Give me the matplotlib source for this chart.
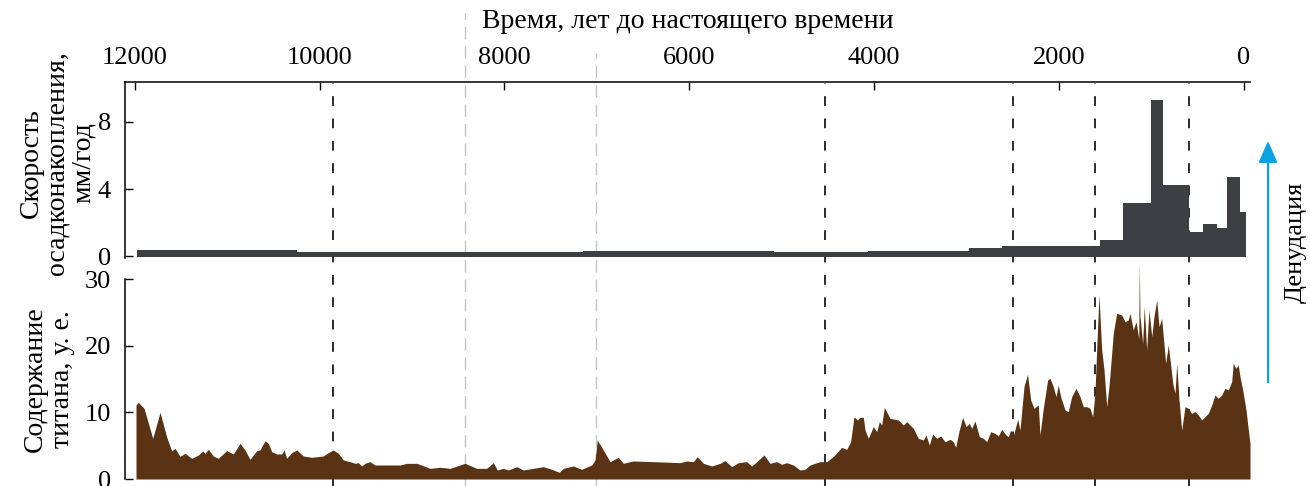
import numpy as np
import matplotlib
matplotlib.use("Agg")
import matplotlib.pyplot as plt

plt.rcParams['font.family'] = ['Liberation Serif', 'DejaVu Serif']

# Sedimentation rate, mm/yr: step intervals (years BP, ascending) and values
rate_edges = [-20, 38, 184, 292, 444, 598, 881, 1006, 1313, 1558, 2618,
              2979, 4067, 5084, 7150, 10244, 11975]
rate_values = [2.66, 4.74, 1.71, 1.93, 1.47, 4.23, 9.3, 3.16, 1.0, 0.64,
               0.49, 0.34, 0.25, 0.34, 0.25, 0.39]

# Titanium content, arbitrary units, vs age (years BP)
ti_age = [11986, 11961, 11899, 11805, 11726, 11654, 11600, 11564, 11510, 11456,
          11383, 11312, 11264, 11239, 11204, 11150, 11096, 11005, 10933, 10861,
          10807, 10753, 10680, 10645, 10590, 10555, 10518, 10464, 10410, 10385,
          10356, 10302, 10247, 10176, 10085, 9960, 9906, 9852, 9797, 9743,
          9671, 9617, 9581, 9545, 9509, 9455, 9401, 9346, 9130, 9058,
          8949, 8806, 8697, 8589, 8427, 8300, 8192, 8121, 8077, 8013,
          7958, 7868, 7796, 7688, 7580, 7489, 7407, 7364, 7255, 7165,
          7056, 7020, 6996, 6931, 6858, 6769, 6714, 6642, 6606, 6390,
          6101, 6029, 5957, 5914, 5849, 5758, 5668, 5614, 5542, 5470,
          5380, 5326, 5271, 5192, 5128, 5055, 5001, 4947, 4875, 4803,
          4749, 4695, 4587, 4514, 4433, 4352, 4298, 4255, 4219, 4183,
          4154, 4118, 4100, 4064, 4010, 3973, 3945, 3919, 3891, 3829,
          3740, 3686, 3649, 3577, 3523, 3469, 3440, 3404, 3368, 3324,
          3281, 3234, 3180, 3145, 3119, 3080, 3043, 3007, 2972, 2946,
          2910, 2863, 2820, 2783, 2740, 2694, 2658, 2621, 2575, 2550,
          2524, 2496, 2448, 2423, 2380, 2342, 2307, 2272, 2225, 2207,
          2171, 2124, 2099, 2063, 2034, 2009, 1983, 1936, 1901, 1864,
          1817, 1774, 1738, 1702, 1666, 1637, 1612, 1593, 1569, 1539,
          1514, 1485, 1457, 1414, 1377, 1323, 1287, 1252, 1233, 1198,
          1168, 1138, 1133, 1125, 1096, 1079, 1053, 1028, 998, 974,
          944, 919, 890, 873, 847, 819, 793, 771, 746, 728,
          703, 674, 638, 603, 566, 530, 494, 458, 422, 386,
          349, 314, 278, 241, 206, 170, 133, 116, 87, 62,
          43, 14, -22, -47, -65]
ti_value = [11.1, 11.5, 10.6, 6.1, 10.0, 6.3, 4.2, 4.6, 3.4, 3.85,
            3.1, 3.6, 4.2, 3.85, 4.45, 3.45, 3.1, 4.25, 3.75, 5.35,
            4.35, 2.95, 4.25, 4.35, 5.75, 5.35, 4.1, 3.75, 3.75, 4.35,
            3.1, 3.95, 4.35, 3.45, 3.25, 3.45, 3.95, 4.35, 3.85, 2.85,
            2.6, 2.35, 2.45, 1.95, 2.35, 2.6, 2.1, 2.1, 2.1, 2.35,
            2.35, 1.6, 1.75, 1.6, 2.35, 1.6, 1.6, 2.45, 1.35, 1.6,
            1.35, 1.85, 1.35, 1.6, 1.85, 1.45, 1.0, 1.6, 1.95, 1.45,
            2.1, 2.85, 5.85, 4.35, 2.6, 3.25, 2.35, 2.6, 2.7, 2.6,
            2.45, 2.7, 2.6, 3.35, 2.35, 1.95, 2.35, 2.75, 1.85, 2.45,
            2.6, 1.95, 2.6, 3.6, 2.35, 2.6, 2.2, 2.45, 2.1, 1.35,
            1.45, 2.1, 2.6, 2.6, 3.5, 4.75, 4.45, 5.6, 9.35, 8.85,
            9.25, 9.25, 7.35, 6.1, 7.85, 7.1, 8.6, 8.1, 10.75, 9.1,
            8.85, 8.1, 8.6, 7.6, 6.1, 5.85, 6.6, 5.1, 6.75, 6.1,
            6.45, 5.6, 5.95, 5.6, 4.75, 7.35, 9.25, 7.85, 8.35, 7.6,
            8.7, 6.35, 6.1, 5.6, 7.1, 6.85, 6.45, 7.45, 6.6, 6.35,
            7.35, 6.45, 8.95, 7.35, 13.85, 15.7, 11.85, 10.6, 11.1, 6.6,
            10.6, 14.85, 15.1, 13.85, 12.35, 14.1, 12.35, 10.35, 10.1, 12.35,
            13.6, 12.35, 10.85, 10.85, 10.6, 9.35, 12.85, 19.6, 27.6, 19.35,
            16.35, 10.85, 14.35, 21.85, 24.85, 24.6, 23.6, 23.85, 24.85, 22.35,
            23.6, 21.0, 32.6, 24.35, 20.35, 25.85, 19.35, 25.35, 21.35, 24.35,
            26.85, 22.85, 24.1, 21.35, 17.35, 20.1, 17.1, 14.35, 12.85, 17.35,
            11.85, 7.35, 10.85, 10.6, 9.85, 10.1, 9.6, 8.85, 9.35, 9.85,
            11.1, 12.6, 12.1, 12.6, 13.6, 13.35, 14.6, 17.35, 16.6, 17.1,
            15.35, 13.35, 10.35, 7.35, 5.35]

# Boundaries of periods (years BP)
major_bounds = [9855, 4533, 2499, 1612, 595]
minor_bounds = [8427, 7010]

time_ticks = [12000, 10000, 8000, 6000, 4000, 2000, 0]
rate_ticks = [0, 4, 8]
ti_ticks = [0, 10, 20, 30]

XLIM = (12105, -65)
BAR_COLOR = '#3e3f42'
TI_COLOR = '#5a3314'
ARROW_COLOR = '#0aa3e0'
TICK_FS = 19
LABEL_FS = 20

W, H = 1310, 486
fig = plt.figure(figsize=(W / 100, H / 100), dpi=100)

left = 125 / W
width = (1250 - 125) / W

# background layer for the period boundaries
bg = fig.add_axes([left, 0, width, 1], zorder=0)
bg.set_xlim(*XLIM)
bg.set_ylim(0, 1)
bg.axis('off')
for a in major_bounds:
    bg.plot([a, a], [0, 1 - 83 / H], color='#2b2b2b', lw=1.4,
            dashes=(5, 6.5))
for a, top in zip(minor_bounds, [1 - 13 / H, 1 - 53 / H]):
    bg.plot([a, a], [0, top], color='#c4c4c4', lw=1.0, dashes=(9, 5))

# upper panel: sedimentation rate
ax1 = fig.add_axes([left, 1 - 258 / H, width, (258 - 82) / H], zorder=1)
ax1.patch.set_alpha(0)
ax1.stairs(rate_values, rate_edges, baseline=-0.06, fill=True,
           color=BAR_COLOR, lw=0)
ax1.set_xlim(*XLIM)
ax1.set_ylim(-0.09, 10.37)
for s in ['right', 'bottom']:
    ax1.spines[s].set_visible(False)
for s in ['left', 'top']:
    ax1.spines[s].set_linewidth(1.1)
ax1.xaxis.tick_top()
ax1.set_xticks(time_ticks)
ax1.set_xticklabels([str(t) for t in time_ticks])
ax1.set_yticks(rate_ticks)
ax1.tick_params(axis='x', direction='in', length=5.5, width=1.0,
                labelsize=TICK_FS, pad=9)
ax1.tick_params(axis='y', direction='in', length=5.5, width=1.0,
                labelsize=TICK_FS, pad=10)

# lower panel: titanium content
ax2 = fig.add_axes([left, 1 - 479 / H, width, 200 / H], zorder=1)
ax2.patch.set_alpha(0)
ax2.fill_between(ti_age, ti_value, 0, color=TI_COLOR, lw=0, clip_on=False)
ax2.set_xlim(*XLIM)
ax2.set_ylim(0, 30)
for s in ['right', 'bottom', 'top']:
    ax2.spines[s].set_visible(False)
ax2.spines['left'].set_linewidth(1.1)
ax2.set_xticks([])
ax2.set_yticks(ti_ticks)
ax2.tick_params(axis='y', direction='in', length=5.5, width=1.0,
                labelsize=TICK_FS, pad=10)

# labels
fig.text(688 / W, 1 - 22 / H, 'Время, лет до настоящего времени',
         ha='center', va='center', fontsize=LABEL_FS)
fig.text(57 / W, 1 - 163 / H, 'Скорость\nосадконакопления,\nмм/год',
         ha='center', va='center', rotation=90, fontsize=LABEL_FS,
         multialignment='center', linespacing=1.05)
fig.text(49 / W, 1 - 379 / H, 'Содержание\nтитана, у. е.',
         ha='center', va='center', rotation=90, fontsize=LABEL_FS,
         multialignment='center', linespacing=1.1)

# denudation arrow
fig.add_artist(matplotlib.patches.FancyArrowPatch(
    (1268 / W, 1 - 385 / H), (1268 / W, 1 - 138 / H),
    transform=fig.transFigure, arrowstyle='-|>,head_length=6,head_width=2.6',
    color=ARROW_COLOR, lw=1.6, mutation_scale=2.2))
fig.text(1296 / W, 1 - 242 / H, 'Денудация', ha='center', va='center',
         rotation=90, fontsize=LABEL_FS - 1)

fig.savefig('out.png', dpi=100)
